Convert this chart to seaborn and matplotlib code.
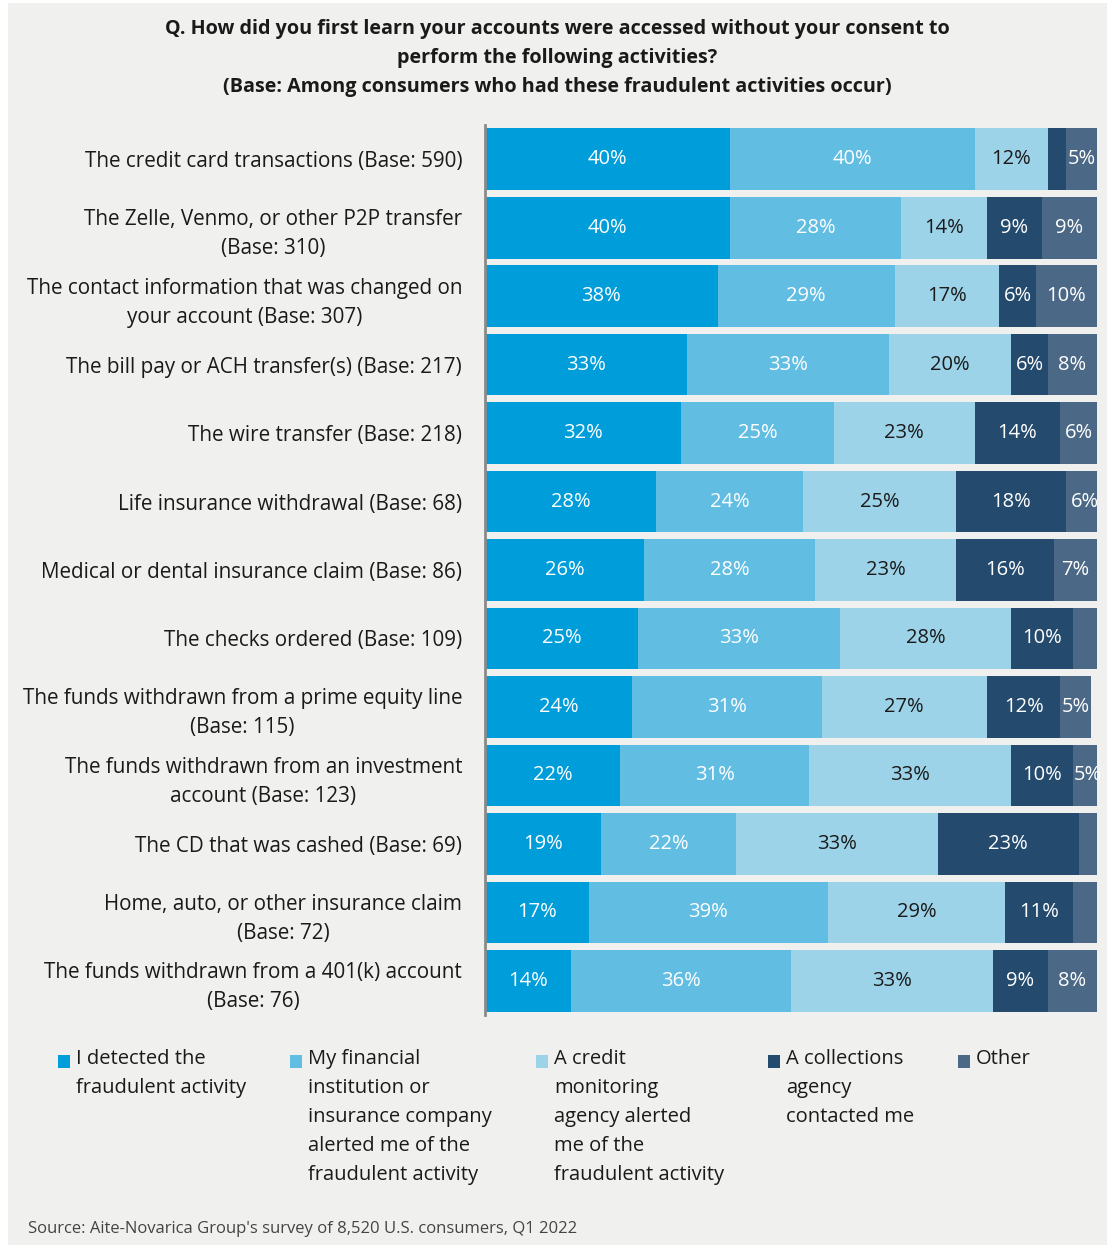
import matplotlib
matplotlib.use("Agg")
import matplotlib.pyplot as plt
from matplotlib.patches import Rectangle
import numpy as np
import pandas as pd
import seaborn as sns

# Survey rows (top to bottom) and the share of respondents for each source
categories = [
    "The credit card transactions (Base: 590)",
    "The Zelle, Venmo, or other P2P transfer\n(Base: 310)",
    "The contact information that was changed on\nyour account (Base: 307)",
    "The bill pay or ACH transfer(s) (Base: 217)",
    "The wire transfer (Base: 218)",
    "Life insurance withdrawal (Base: 68)",
    "Medical or dental insurance claim (Base: 86)",
    "The checks ordered (Base: 109)",
    "The funds withdrawn from a prime equity line\n(Base: 115)",
    "The funds withdrawn from an investment\naccount (Base: 123)",
    "The CD that was cashed (Base: 69)",
    "Home, auto, or other insurance claim\n(Base: 72)",
    "The funds withdrawn from a 401(k) account\n(Base: 76)",
]

detected_self = [40, 40, 38, 33, 32, 28, 26, 25, 24, 22, 19, 17, 14]
institution_alert = [40, 28, 29, 33, 25, 24, 28, 33, 31, 31, 22, 39, 36]
credit_monitoring = [12, 14, 17, 20, 23, 25, 23, 28, 27, 33, 33, 29, 33]
collections_agency = [3, 9, 6, 6, 14, 18, 16, 10, 12, 10, 23, 11, 9]
other = [5, 9, 10, 8, 6, 6, 7, 4, 5, 5, 3, 4, 8]

series_names = [
    "I detected the\nfraudulent activity",
    "My financial\ninstitution or\ninsurance company\nalerted me of the\nfraudulent activity",
    "A credit\nmonitoring\nagency alerted\nme of the\nfraudulent activity",
    "A collections\nagency\ncontacted me",
    "Other",
]

title_text = ("Q. How did you first learn your accounts were accessed without your consent to\n"
              "perform the following activities?\n"
              "(Base: Among consumers who had these fraudulent activities occur)")
source_text = "Source: Aite-Novarica Group's survey of 8,520 U.S. consumers, Q1 2022"

colors = ["#009ddb", "#62bde3", "#9dd3e8", "#244a6e", "#4b6886"]
label_colors = ["white", "white", "#1a1a1a", "white", "white"]

sns.set_style("white")
plt.rcParams["font.family"] = ["Open Sans", "DejaVu Sans"]

series = [detected_self, institution_alert, credit_monitoring, collections_agency, other]
df = pd.DataFrame({"category": categories})
for k, s in enumerate(series):
    df[f"s{k}"] = s
cum = np.cumsum(np.array(series), axis=0)
for k in range(len(series)):
    df[f"cum{k}"] = cum[k]

W, H, DPI = 1107, 1245, 100
fig = plt.figure(figsize=(W / DPI, H / DPI), dpi=DPI, facecolor="white")
bg = "#f0f0ee"
fig.patches.append(Rectangle((8 / W, 0), 1 - 8 / W, 1 - 3 / H, transform=fig.transFigure,
                             facecolor=bg, edgecolor="none", zorder=-10))

ax = fig.add_axes([485 / W, 1 - 1015 / H, (1097 - 485) / W, (1015 - 125) / H])
ax.set_facecolor("none")

# Stacked bars: draw cumulative totals from the widest down
for k in reversed(range(len(series))):
    sns.barplot(data=df, x=f"cum{k}", y="category", order=categories, orient="h",
                color=colors[k], saturation=1, width=0.9, errorbar=None,
                linewidth=0, ax=ax)

# Segment labels
for i in range(len(categories)):
    for k, s in enumerate(series):
        v = s[i]
        if v >= 5:
            ax.text(cum[k][i] - v / 2, i, f"{v}%", ha="center", va="center",
                    color=label_colors[k], fontsize=14.5)

ax.set_xlim(0, 100)
ax.set_xlabel("")
ax.set_ylabel("")
ax.set_xticks([])
ax.tick_params(axis="y", length=0, pad=16.5, labelsize=14.9, labelcolor="#1a1a1a")
for lbl in ax.get_yticklabels():
    lbl.set_multialignment("center")
    lbl.set_linespacing(1.5)
for side in ["top", "right", "bottom"]:
    ax.spines[side].set_visible(False)
ax.spines["left"].set_color("#8a8a8a")
ax.spines["left"].set_linewidth(2)

fig.text(557 / W, 1 - 19 / H, title_text, ha="center", va="top", fontsize=14.2,
         fontweight="bold", color="#1a1a1a", linespacing=1.6)

# Legend entries: colour square beside the first line of each wrapped name
legend_x = [58, 290, 536, 768, 958]
for k, name in enumerate(series_names):
    x0 = legend_x[k]
    fig.patches.append(Rectangle((x0 / W, 1 - 1068 / H), 12 / W, 13 / H,
                                 transform=fig.transFigure, facecolor=colors[k],
                                 edgecolor="none"))
    fig.text((x0 + 18) / W, 1 - 1049 / H, name, ha="left", va="top", fontsize=14.5,
             color="#1a1a1a", linespacing=1.6)

fig.text(28 / W, 1 - 1229 / H, source_text, ha="left", va="center", fontsize=12,
         color="#444444")

fig.savefig("out.png", dpi=DPI, facecolor="white")
